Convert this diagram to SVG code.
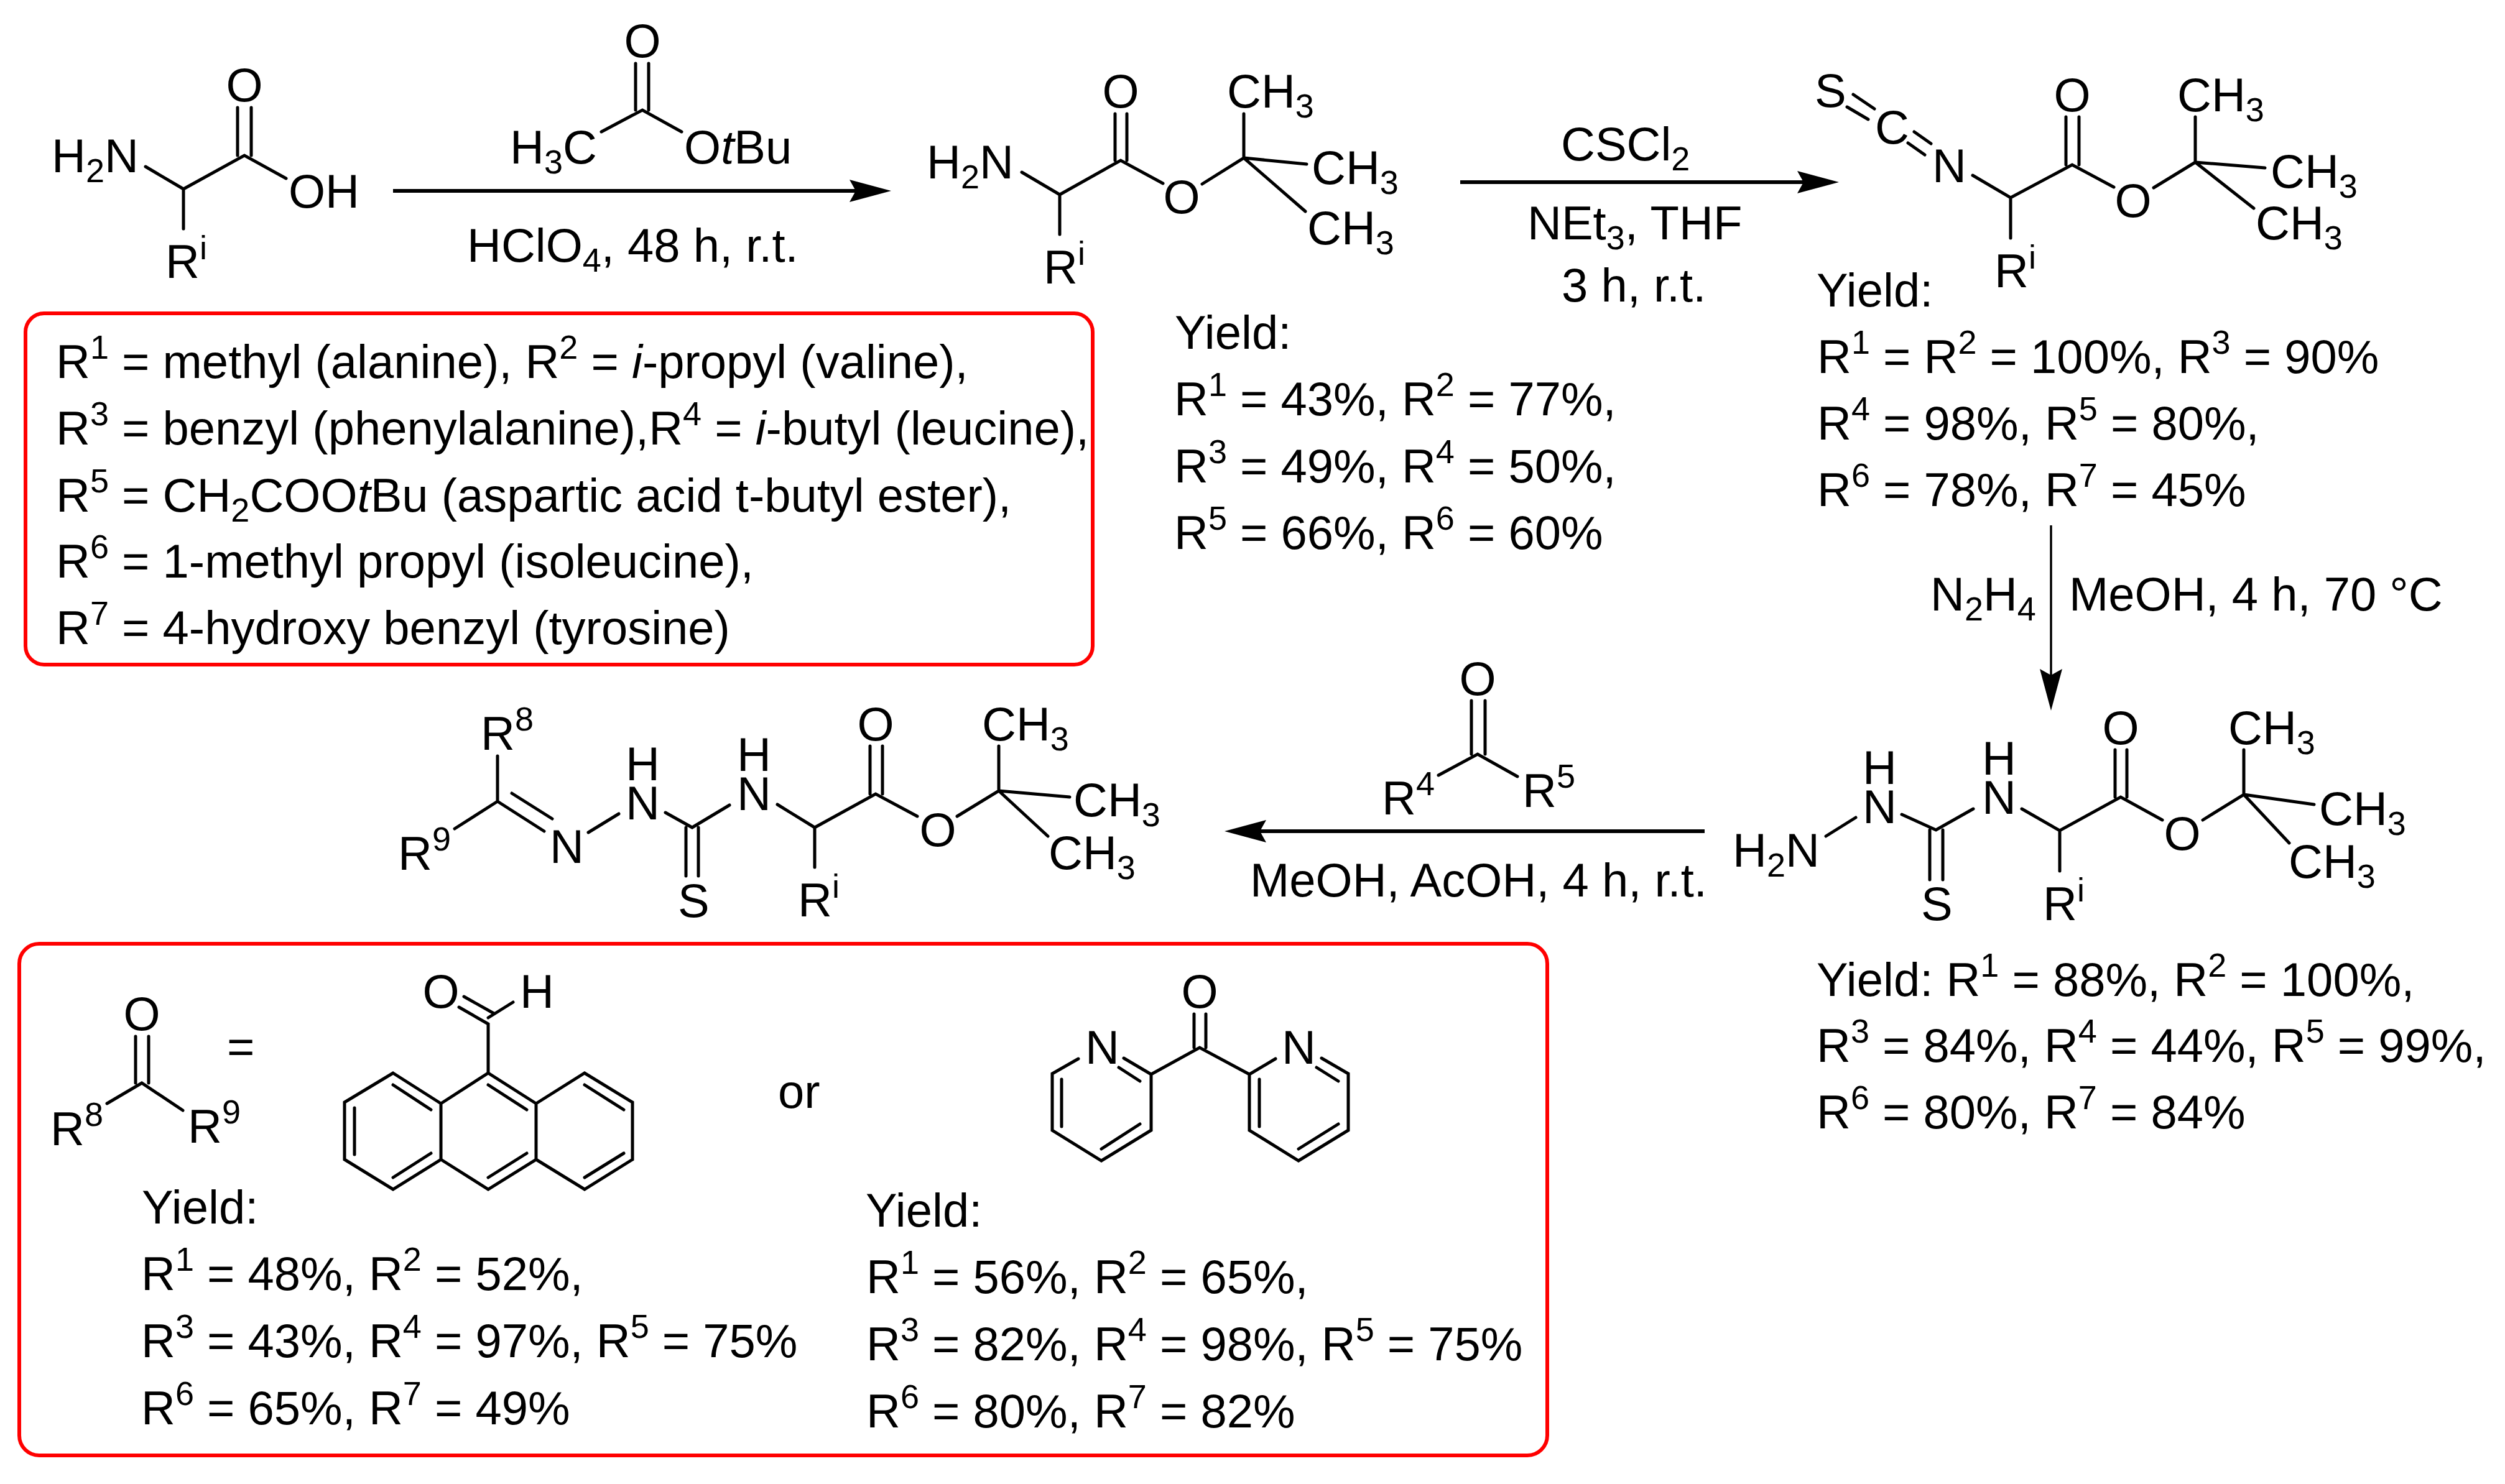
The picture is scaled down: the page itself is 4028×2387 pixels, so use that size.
<svg xmlns="http://www.w3.org/2000/svg" width="4028" height="2387" viewBox="0 0 4028 2387">
<style>
text{font-family:"Liberation Sans",Arial,sans-serif;font-size:76px;fill:#000}
.m{text-anchor:middle}
.s{font-size:54px}
.bond{fill:none;stroke:#000;stroke-width:5;stroke-linejoin:miter;stroke-linecap:round}
.box{fill:none;stroke:#f00;stroke-width:6}
.arr{fill:none;stroke:#000;stroke-width:6}
.thin{fill:none;stroke:#000;stroke-width:3.5}
</style>
<defs>
<marker id="head" markerUnits="userSpaceOnUse" markerWidth="68" markerHeight="38" viewBox="0 0 68 38" refX="11" refY="19" orient="auto">
<path d="M0 1L67 19L0 37L10 19Z" fill="#000"/>
</marker>
</defs>
<rect width="4028" height="2387" fill="#fff"/>
<g id="connectors">
<line class="arr" x1="632" y1="307" x2="1377" y2="307" marker-end="url(#head)"/>
<line class="arr" x1="2348" y1="293" x2="2901" y2="293" marker-end="url(#head)"/>
<line class="thin" x1="3298" y1="845" x2="3298" y2="1087" marker-end="url(#head)"/>
<line class="arr" x1="2741" y1="1337" x2="2025" y2="1337" marker-end="url(#head)"/>
</g>
<g id="amino-acid">
<path class="bond" d="M234 268L295 304L393 250L460 287M295 304V368M382 250V173M404 250V173"/>
<text x="83" y="277">H<tspan class="s" dy="16">2</tspan><tspan dy="-16">N</tspan></text>
<text class="m" x="393" y="163">O</text>
<text x="464" y="334">OH</text>
<text x="266" y="447">R<tspan class="s" dy="-30">i</tspan></text>
</g>
<g id="reagent-1">
<path class="bond" d="M967 212L1033 177L1096 212M1022 177V102M1043 177V102"/>
<text class="m" x="1033" y="92">O</text>
<text x="820" y="263">H<tspan class="s" dy="16">3</tspan><tspan dy="-16">C</tspan></text>
<text x="1100" y="263">O<tspan font-style="italic">t</tspan>Bu</text>
<text x="751" y="421">HClO<tspan class="s" dy="16">4</tspan><tspan dy="-16">, 48 h, r.t.</tspan></text>
</g>
<g id="ester">
<path class="bond" d="M1643 277L1704 313L1802 258L1870 295M1704 313V377M1793 258V183M1812 258V183M1933 296L2000 254V183M2000 254L2101 264M2000 254L2099 340"/>
<text x="1490" y="287">H<tspan class="s" dy="16">2</tspan><tspan dy="-16">N</tspan></text>
<text class="m" x="1802" y="173">O</text>
<text class="m" x="1900" y="343">O</text>
<text x="1973" y="173">CH<tspan class="s" dy="16">3</tspan></text>
<text x="2109" y="296">CH<tspan class="s" dy="16">3</tspan></text>
<text x="2102" y="393">CH<tspan class="s" dy="16">3</tspan></text>
<text x="1678" y="456">R<tspan class="s" dy="-30">i</tspan></text>
</g>
<g id="reagent-2">
<text x="2510" y="258">CSCl<tspan class="s" dy="16">2</tspan></text>
<text x="2456" y="385">NEt<tspan class="s" dy="16">3</tspan><tspan dy="-16">, THF</tspan></text>
<text x="2511" y="485">3 h, r.t.</text>
</g>
<g id="isothiocyanate">
<path class="bond" d="M2980 152L3014 175M2970 172L3004 192M3078 212L3105 231M3068 230L3095 249M3172 282L3233 318L3332 265L3399 301M3233 318V383M3322 265V188M3343 265V188M3463 302L3530 261V188M3530 261L3642 270M3530 261L3624 335"/>
<text x="2918" y="172">S</text>
<text x="3015" y="231">C</text>
<text x="3107" y="293">N</text>
<text class="m" x="3332" y="179">O</text>
<text class="m" x="3430" y="349">O</text>
<text x="3501" y="179">CH<tspan class="s" dy="16">3</tspan></text>
<text x="3651" y="302">CH<tspan class="s" dy="16">3</tspan></text>
<text x="3627" y="385">CH<tspan class="s" dy="16">3</tspan></text>
<text x="3207" y="462">R<tspan class="s" dy="-30">i</tspan></text>
</g>
<g id="yield-ester">
<text x="1889" y="561">Yield:</text>
<text x="1888" y="668">R<tspan class="s" dy="-31">1</tspan><tspan dy="31"> = 43%, R</tspan><tspan class="s" dy="-31">2</tspan><tspan dy="31"> = 77%,</tspan></text>
<text x="1888" y="776">R<tspan class="s" dy="-31">3</tspan><tspan dy="31"> = 49%, R</tspan><tspan class="s" dy="-31">4</tspan><tspan dy="31"> = 50%,</tspan></text>
<text x="1888" y="883">R<tspan class="s" dy="-31">5</tspan><tspan dy="31"> = 66%, R</tspan><tspan class="s" dy="-31">6</tspan><tspan dy="31"> = 60%</tspan></text>
</g>
<g id="yield-isothiocyanate">
<text x="2921" y="493">Yield:</text>
<text x="2922" y="600">R<tspan class="s" dy="-31">1</tspan><tspan dy="31"> = R</tspan><tspan class="s" dy="-31">2</tspan><tspan dy="31"> = 100%, R</tspan><tspan class="s" dy="-31">3</tspan><tspan dy="31"> = 90%</tspan></text>
<text x="2922" y="707">R<tspan class="s" dy="-31">4</tspan><tspan dy="31"> = 98%, R</tspan><tspan class="s" dy="-31">5</tspan><tspan dy="31"> = 80%,</tspan></text>
<text x="2922" y="814">R<tspan class="s" dy="-31">6</tspan><tspan dy="31"> = 78%, R</tspan><tspan class="s" dy="-31">7</tspan><tspan dy="31"> = 45%</tspan></text>
</g>
<g id="reagent-3">
<text x="3104" y="982">N<tspan class="s" dy="16">2</tspan><tspan dy="-16">H</tspan><tspan class="s" dy="16">4</tspan></text>
<text x="3327" y="982">MeOH, 4 h, 70 °C</text>
</g>
<g id="thiosemicarbazide">
<path class="bond" d="M2936 1345L2984 1315M3058 1310L3113 1335L3173 1301M3103 1335V1415M3124 1335V1415M3251 1301L3312 1336L3410 1282L3477 1319M3312 1336V1401M3401 1282V1206M3420 1282V1206M3542 1319L3608 1278V1206M3608 1278L3721 1294M3608 1278L3681 1356"/>
<text x="2786" y="1394">H<tspan class="s" dy="16">2</tspan><tspan dy="-16">N</tspan></text>
<text x="2995" y="1324">N</text>
<text x="2995" y="1261">H</text>
<text x="3187" y="1309">N</text>
<text x="3187" y="1246">H</text>
<text x="3089" y="1480">S</text>
<text class="m" x="3410" y="1197">O</text>
<text class="m" x="3509" y="1367">O</text>
<text x="3583" y="1197">CH<tspan class="s" dy="16">3</tspan></text>
<text x="3729" y="1327">CH<tspan class="s" dy="16">3</tspan></text>
<text x="3680" y="1412">CH<tspan class="s" dy="16">3</tspan></text>
<text x="3285" y="1480">R<tspan class="s" dy="-30">i</tspan></text>
</g>
<g id="yield-thiosemicarbazide">
<text x="2921" y="1602">Yield: R<tspan class="s" dy="-31">1</tspan><tspan dy="31"> = 88%, R</tspan><tspan class="s" dy="-31">2</tspan><tspan dy="31"> = 100%,</tspan></text>
<text x="2921" y="1708">R<tspan class="s" dy="-31">3</tspan><tspan dy="31"> = 84%, R</tspan><tspan class="s" dy="-31">4</tspan><tspan dy="31"> = 44%, R</tspan><tspan class="s" dy="-31">5</tspan><tspan dy="31"> = 99%,</tspan></text>
<text x="2921" y="1815">R<tspan class="s" dy="-31">6</tspan><tspan dy="31"> = 80%, R</tspan><tspan class="s" dy="-31">7</tspan><tspan dy="31"> = 84%</tspan></text>
</g>
<g id="reagent-4">
<path class="bond" d="M2313 1247L2376 1213L2440 1249M2366 1213V1127M2388 1213V1127"/>
<text class="m" x="2376" y="1118">O</text>
<text x="2222" y="1310">R<tspan class="s" dy="-31">4</tspan></text>
<text x="2448" y="1298">R<tspan class="s" dy="-31">5</tspan></text>
<text x="2010" y="1442">MeOH, AcOH, 4 h, r.t.</text>
</g>
<g id="thiosemicarbazone">
<path class="bond" d="M800 1216V1289L731 1333M800 1289L875 1337M823 1276L888 1317M946 1339L995 1309M1070 1307L1113 1331L1173 1295M1103 1331V1409M1123 1331V1409M1250 1294L1310 1331L1408 1277L1475 1313M1310 1331V1395M1399 1277V1200M1419 1277V1200M1539 1313L1606 1272V1200M1606 1272L1720 1282M1606 1272L1685 1345"/>
<text x="773" y="1206">R<tspan class="s" dy="-31">8</tspan></text>
<text x="640" y="1399">R<tspan class="s" dy="-31">9</tspan></text>
<text x="884" y="1388">N</text>
<text x="1006" y="1318">N</text>
<text x="1006" y="1255">H</text>
<text x="1185" y="1303">N</text>
<text x="1185" y="1240">H</text>
<text x="1090" y="1475">S</text>
<text class="m" x="1408" y="1191">O</text>
<text class="m" x="1508" y="1361">O</text>
<text x="1579" y="1191">CH<tspan class="s" dy="16">3</tspan></text>
<text x="1726" y="1313">CH<tspan class="s" dy="16">3</tspan></text>
<text x="1686" y="1398">CH<tspan class="s" dy="16">3</tspan></text>
<text x="1283" y="1474">R<tspan class="s" dy="-30">i</tspan></text>
</g>
<g id="box-substituents">
<rect class="box" x="41" y="504" width="1725" height="565" rx="30" ry="30" transform="translate(41 0) scale(0.9948 1) translate(-41 0)"/>
<text x="90" y="608">R<tspan class="s" dy="-31">1</tspan><tspan dy="31"> = methyl (alanine), R</tspan><tspan class="s" dy="-31">2</tspan><tspan dy="31"> = </tspan><tspan font-style="italic">i</tspan>-propyl (valine),</text>
<text x="90" y="715">R<tspan class="s" dy="-31">3</tspan><tspan dy="31"> = benzyl (phenylalanine),R</tspan><tspan class="s" dy="-31">4</tspan><tspan dy="31"> = </tspan><tspan font-style="italic">i</tspan>-butyl (leucine),</text>
<text x="90" y="823">R<tspan class="s" dy="-31">5</tspan><tspan dy="31"> = CH</tspan><tspan class="s" dy="16">2</tspan><tspan dy="-16">COO</tspan><tspan font-style="italic">t</tspan>Bu (aspartic acid t-butyl ester),</text>
<text x="90" y="929">R<tspan class="s" dy="-31">6</tspan><tspan dy="31"> = 1-methyl propyl (isoleucine),</tspan></text>
<text x="90" y="1036">R<tspan class="s" dy="-31">7</tspan><tspan dy="31"> = 4-hydroxy benzyl (tyrosine)</tspan></text>
</g>
<g id="box-ketones">
<rect class="box" x="31" y="1518" width="2457" height="823" rx="32" ry="32"/>
<path class="bond" d="M172 1775L228 1742L294 1786M218 1742V1667M239 1742V1667"/>
<text class="m" x="228" y="1657">O</text>
<text x="81" y="1842">R<tspan class="s" dy="-31">8</tspan></text>
<text x="302" y="1838">R<tspan class="s" dy="-31">9</tspan></text>
<text x="365" y="1710">=</text>
<text x="1251" y="1782">or</text>
<text x="228" y="1968">Yield:</text>
<text x="227" y="2075">R<tspan class="s" dy="-31">1</tspan><tspan dy="31"> = 48%, R</tspan><tspan class="s" dy="-31">2</tspan><tspan dy="31"> = 52%,</tspan></text>
<text x="227" y="2183">R<tspan class="s" dy="-31">3</tspan><tspan dy="31"> = 43%, R</tspan><tspan class="s" dy="-31">4</tspan><tspan dy="31"> = 97%, R</tspan><tspan class="s" dy="-31">5</tspan><tspan dy="31"> = 75%</tspan></text>
<text x="227" y="2291">R<tspan class="s" dy="-31">6</tspan><tspan dy="31"> = 65%, R</tspan><tspan class="s" dy="-31">7</tspan><tspan dy="31"> = 49%</tspan></text>
<text x="1392" y="1973">Yield:</text>
<text x="1393" y="2080">R<tspan class="s" dy="-31">1</tspan><tspan dy="31"> = 56%, R</tspan><tspan class="s" dy="-31">2</tspan><tspan dy="31"> = 65%,</tspan></text>
<text x="1393" y="2188">R<tspan class="s" dy="-31">3</tspan><tspan dy="31"> = 82%, R</tspan><tspan class="s" dy="-31">4</tspan><tspan dy="31"> = 98%, R</tspan><tspan class="s" dy="-31">5</tspan><tspan dy="31"> = 75%</tspan></text>
<text x="1393" y="2296">R<tspan class="s" dy="-31">6</tspan><tspan dy="31"> = 80%, R</tspan><tspan class="s" dy="-31">7</tspan><tspan dy="31"> = 82%</tspan></text>
</g>
<g id="anthracene-aldehyde">
<path class="bond" d="M632 1726L709 1775V1865L632 1913L554 1865V1773ZM709 1775L785 1726L862 1775V1865L785 1913L709 1865M862 1775L940 1726L1017 1773V1865L940 1913L862 1865M632 1745L693 1785M693 1855L632 1894M570 1782V1857M785 1745L847 1785M847 1855L785 1894M940 1745L1003 1785M1003 1855L940 1894M785 1726V1647L738 1620M794 1630L746 1603M785 1637L825 1612"/>
<text class="m" x="709" y="1621">O</text>
<text x="836" y="1621">H</text>
</g>
<g id="dipyridyl-ketone">
<path class="bond" d="M1920 1685V1631M1939 1685V1631M1851 1728L1929 1685L2009 1728M1734 1703L1692 1727V1818L1771 1867L1851 1818V1728L1807 1702M1799 1717L1833 1739M1707 1736V1812M1833 1808L1771 1848M2051 1703L2009 1728V1818L2088 1867L2168 1818V1727L2125 1702M2117 1717L2152 1739M2025 1736V1812M2152 1808L2088 1848"/>
<text class="m" x="1929" y="1621">O</text>
<text x="1745" y="1711">N</text>
<text x="2061" y="1711">N</text>
</g>
</svg>
